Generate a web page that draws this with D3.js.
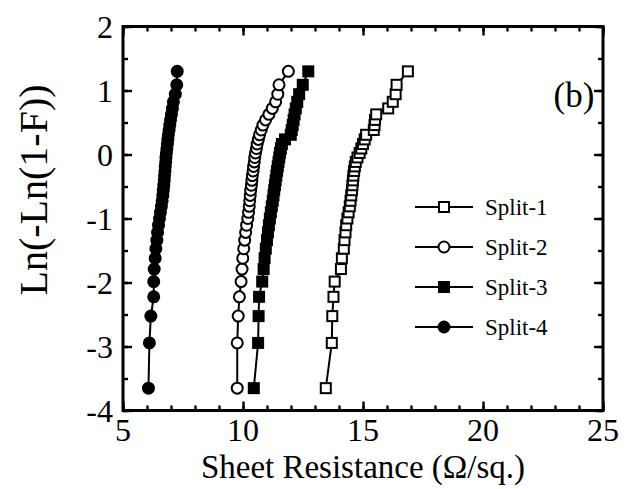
<!DOCTYPE html>
<html>
<head>
<meta charset="utf-8">
<script src="https://cdn.jsdelivr.net/npm/d3@7"></script>
<style>
  body { margin: 0; background: #fff; }
  svg { display: block; }
  text { font-family: "Liberation Serif", "Times New Roman", serif; fill: #000; }
</style>
</head>
<body>
<svg id="chart" width="634" height="489"></svg>
<script>
// Weibull plotting positions Ln(-Ln(1-F)), F = i/(n+1), n = 38 samples per split
const weibullY = [
  -3.651, -2.944, -2.525, -2.224, -1.986, -1.790, -1.621, -1.472, -1.338, -1.217,
  -1.105, -1.000, -0.903, -0.810, -0.723, -0.639, -0.558, -0.480, -0.404, -0.330,
  -0.257, -0.186, -0.116, -0.046, 0.024, 0.094, 0.164, 0.236, 0.308, 0.383,
  0.460, 0.541, 0.627, 0.720, 0.823, 0.942, 1.089, 1.299
];

// Sorted sheet resistance (Ω/sq.) for each split
const split1 = [
  13.45, 13.70, 13.72, 13.77, 13.82, 14.08, 14.12, 14.20, 14.23, 14.27,
  14.30, 14.35, 14.40, 14.45, 14.48, 14.51, 14.54, 14.56, 14.58, 14.60,
  14.63, 14.66, 14.70, 14.77, 14.86, 14.93, 15.00, 15.07, 15.13, 15.45,
  15.48, 15.50, 15.55, 16.05, 16.24, 16.36, 16.40, 16.87
];
const split2 = [
  9.76, 9.76, 9.80, 9.85, 9.92, 9.96, 9.99, 10.03, 10.07, 10.11,
  10.15, 10.20, 10.23, 10.26, 10.28, 10.30, 10.32, 10.35, 10.37, 10.39,
  10.42, 10.44, 10.47, 10.49, 10.52, 10.56, 10.59, 10.64, 10.69, 10.76,
  10.83, 10.94, 11.08, 11.22, 11.36, 11.45, 11.50, 11.89
];
const split3 = [
  10.45, 10.63, 10.65, 10.67, 10.80, 10.86, 10.90, 10.95, 11.00, 11.04,
  11.08, 11.12, 11.16, 11.20, 11.24, 11.27, 11.30, 11.33, 11.36, 11.39,
  11.42, 11.45, 11.48, 11.51, 11.54, 11.58, 11.62, 11.75, 11.99, 12.03,
  12.07, 12.11, 12.15, 12.20, 12.26, 12.34, 12.49, 12.72
];
const split4 = [
  6.06, 6.10, 6.16, 6.28, 6.28, 6.30, 6.34, 6.37, 6.41, 6.44,
  6.48, 6.52, 6.56, 6.60, 6.63, 6.66, 6.68, 6.70, 6.72, 6.73,
  6.75, 6.76, 6.78, 6.79, 6.81, 6.83, 6.85, 6.87, 6.89, 6.92,
  6.95, 6.98, 7.02, 7.06, 7.10, 7.18, 7.24, 7.26
];

const seriesNames = ["Split-1", "Split-2", "Split-3", "Split-4"];
const seriesValues = [split1, split2, split3, split4];
const seriesMarkers = ["openSquare", "openCircle", "filledSquare", "filledCircle"];

const xTicks = [5, 10, 15, 20, 25];
const xMinorTicks = d3.range(5, 25.01, 1);
const yTicks = [-4, -3, -2, -1, 0, 1, 2];
const yMinorTicks = d3.range(-4, 2.01, 0.5);

const xLabel = "Sheet Resistance (\u03A9/sq.)";
const yLabel = "Ln(-Ln(1-F))";
const panelLabel = "(b)";

const svg = d3.select("#chart");
const plotLeft = 123, plotRight = 603, plotTop = 26.5, plotBottom = 410.5;

const x = d3.scaleLinear().domain([5, 25]).range([plotLeft, plotRight]);
const y = d3.scaleLinear().domain([-4, 2]).range([plotBottom, plotTop]);

// Inward ticks on all four sides
function tickAxis(axis, transform, size, values) {
  const g = svg.append("g").attr("transform", transform)
    .call(axis.tickValues(values).tickSize(size).tickFormat(""));
  g.select(".domain").remove();
  g.selectAll("line").attr("stroke", "#000").attr("stroke-width", 2.4);
  return g;
}
tickAxis(d3.axisBottom(x), `translate(0,${plotBottom})`, -5, xMinorTicks);
tickAxis(d3.axisBottom(x), `translate(0,${plotBottom})`, -9, xTicks);
tickAxis(d3.axisTop(x), `translate(0,${plotTop})`, -5, xMinorTicks);
tickAxis(d3.axisTop(x), `translate(0,${plotTop})`, -9, xTicks);
tickAxis(d3.axisLeft(y), `translate(${plotLeft},0)`, -5, yMinorTicks);
tickAxis(d3.axisLeft(y), `translate(${plotLeft},0)`, -9, yTicks);
tickAxis(d3.axisRight(y), `translate(${plotRight},0)`, -5, yMinorTicks);
tickAxis(d3.axisRight(y), `translate(${plotRight},0)`, -9, yTicks);

// Frame
svg.append("rect")
  .attr("x", plotLeft).attr("y", plotTop)
  .attr("width", plotRight - plotLeft).attr("height", plotBottom - plotTop)
  .attr("fill", "none").attr("stroke", "#000").attr("stroke-width", 3);

// Tick labels
svg.append("g").selectAll("text").data(xTicks).join("text")
  .attr("x", d => x(d)).attr("y", plotBottom + 30)
  .attr("text-anchor", "middle").attr("font-size", 32)
  .text(d => d);
svg.append("g").selectAll("text").data(yTicks).join("text")
  .attr("x", plotLeft - 10).attr("y", d => y(d) + 11)
  .attr("text-anchor", "end").attr("font-size", 32)
  .text(d => d);

// Axis titles
svg.append("text")
  .attr("x", (plotLeft + plotRight) / 2).attr("y", 478)
  .attr("text-anchor", "middle").attr("font-size", 33)
  .text(xLabel);
svg.append("text")
  .attr("transform", "translate(47,190) rotate(-90)")
  .attr("text-anchor", "middle").attr("font-size", 40)
  .text(yLabel);

svg.append("text")
  .attr("x", 574).attr("y", 107)
  .attr("text-anchor", "middle").attr("font-size", 35)
  .text(panelLabel);

// Marker drawing
function drawMarker(sel, type) {
  if (type === "openSquare" || type === "filledSquare") {
    sel.append("rect")
      .attr("x", -5).attr("y", -5).attr("width", 10).attr("height", 10)
      .attr("fill", type === "filledSquare" ? "#000" : "#fff")
      .attr("stroke", "#000").attr("stroke-width", 2);
  } else {
    sel.append("circle")
      .attr("r", 5.5)
      .attr("fill", type === "filledCircle" ? "#000" : "#fff")
      .attr("stroke", "#000").attr("stroke-width", 2);
  }
}

const line = d3.line().x(d => x(d[0])).y(d => y(d[1]));

seriesValues.forEach((vals, s) => {
  const pts = vals.map((v, i) => [v, weibullY[i]]);
  const g = svg.append("g").attr("class", "series");
  g.append("path").datum(pts)
    .attr("d", line).attr("fill", "none")
    .attr("stroke", "#000").attr("stroke-width", 2);
  g.selectAll("g.pt").data(pts).join("g")
    .attr("class", "pt")
    .attr("transform", d => `translate(${x(d[0])},${y(d[1])})`)
    .each(function () { drawMarker(d3.select(this), seriesMarkers[s]); });
});

// Legend
const legend = svg.append("g");
seriesNames.forEach((name, i) => {
  const ly = 207 + i * 40;
  legend.append("line")
    .attr("x1", 415).attr("x2", 473).attr("y1", ly).attr("y2", ly)
    .attr("stroke", "#000").attr("stroke-width", 2);
  drawMarker(legend.append("g").attr("transform", `translate(444,${ly})`), seriesMarkers[i]);
  legend.append("text")
    .attr("x", 485).attr("y", ly + 8)
    .attr("font-size", 23)
    .text(name);
});
</script>
</body>
</html>
